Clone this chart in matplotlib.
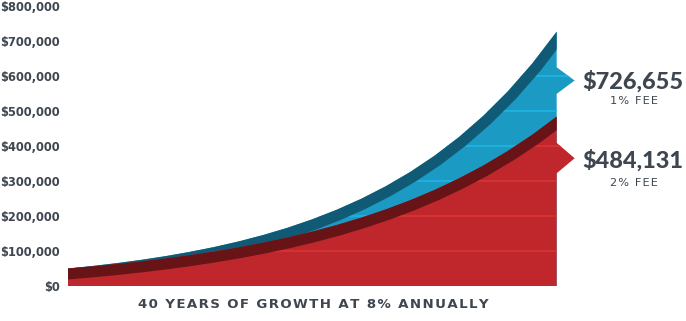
import matplotlib.pyplot as plt
from matplotlib.patches import Polygon

# portfolio value every 2 years
years = [0, 2, 4, 6, 8, 10, 12, 14, 16, 18, 20, 22, 24, 26, 28, 30, 32, 34, 36, 38, 40]
fee_1pct = [50000, 57159, 65344, 74701, 85397, 97625, 111604, 127584, 145853, 166737,
            190612, 217906, 249108, 284777, 325554, 372170, 425460, 486382, 556026,
            635644, 726655]
fee_2pct = [50000, 56011, 62744, 70287, 78736, 88201, 98804, 110681, 123986, 138891,
            155587, 174290, 195242, 218712, 245004, 274456, 307449, 344408, 385809,
            432187, 484131]

ytick_vals = [0, 100000, 200000, 300000, 400000, 500000, 600000, 700000, 800000]
ytick_labels = ['$0', '$100,000', '$200,000', '$300,000', '$400,000',
                '$500,000', '$600,000', '$700,000', '$800,000']
end_labels = ['$726,655', '$484,131']
fee_labels = ['1% FEE', '2% FEE']
title = '40 YEARS OF GROWTH AT 8% ANNUALLY'

W, H = 686, 321
fig = plt.figure(figsize=(W / 100, H / 100), dpi=100)
# plot box: x 0..41.5 years over px 68..575, y 0..800k over px 286..6
ax = fig.add_axes([68 / W, 35 / H, 507 / W, 280 / H])
ax.set_xlim(0, 41.5)
ax.set_ylim(0, 800000)
for s in ax.spines.values():
    s.set_visible(False)
ax.set_xticks([])
ax.set_yticks(ytick_vals)
ax.set_yticklabels(ytick_labels, fontsize=8.3, fontweight='bold', color='#3e4650')
ax.tick_params(axis='y', length=0, pad=5.8)

tip_x = 41.47


def area(xs, ys, arrow_top, arrow_tip, arrow_bot):
    pts = [(xs[0], 0)] + list(zip(xs, ys))
    pts += [(xs[-1], arrow_top), (tip_x, arrow_tip), (xs[-1], arrow_bot), (xs[-1], 0)]
    return pts


series = [
    (fee_1pct, (625000, 587000, 549000), '#1b9bc4', '#1db3e3', '#11556f'),
    (fee_2pct, (409000, 365000, 322000), '#c0272d', '#d73334', '#611214'),
]
z = 1
for vals, arr, fill_c, grid_c, band_c in series:
    poly = Polygon(area(years, vals, *arr), closed=True, facecolor=fill_c,
                   edgecolor='none', zorder=z)
    ax.add_patch(poly)
    for v in ytick_vals[1:-1]:
        gl = ax.axhline(v, color=grid_c, lw=1.3, zorder=z + 1)
        gl.set_clip_path(poly)
    band, = ax.plot(years, vals, color=band_c, lw=15.8, alpha=0.93,
                    solid_capstyle='projecting', solid_joinstyle='round', zorder=z + 2)
    band.set_clip_path(poly)
    z += 3

txt_c = '#3e4650'
for lab, fee, yb, yf in zip(end_labels, fee_labels, [81.5, 160], [101.5, 183]):
    fig.text(633 / W, 1 - yb / H, lab, family='Lato', fontweight=900,
             fontsize=16.9, color=txt_c, ha='center', va='center')
    fig.text(634 / W, 1 - yf / H, '\u200a'.join(fee), fontsize=8.2,
             color=txt_c, ha='center', va='center')

fig.text(313 / W, 1 - 305 / H, '\u200a'.join(title), fontsize=9.6,
         fontweight='bold', color=txt_c, ha='center', va='center')

fig.savefig('out.png', dpi=100)
